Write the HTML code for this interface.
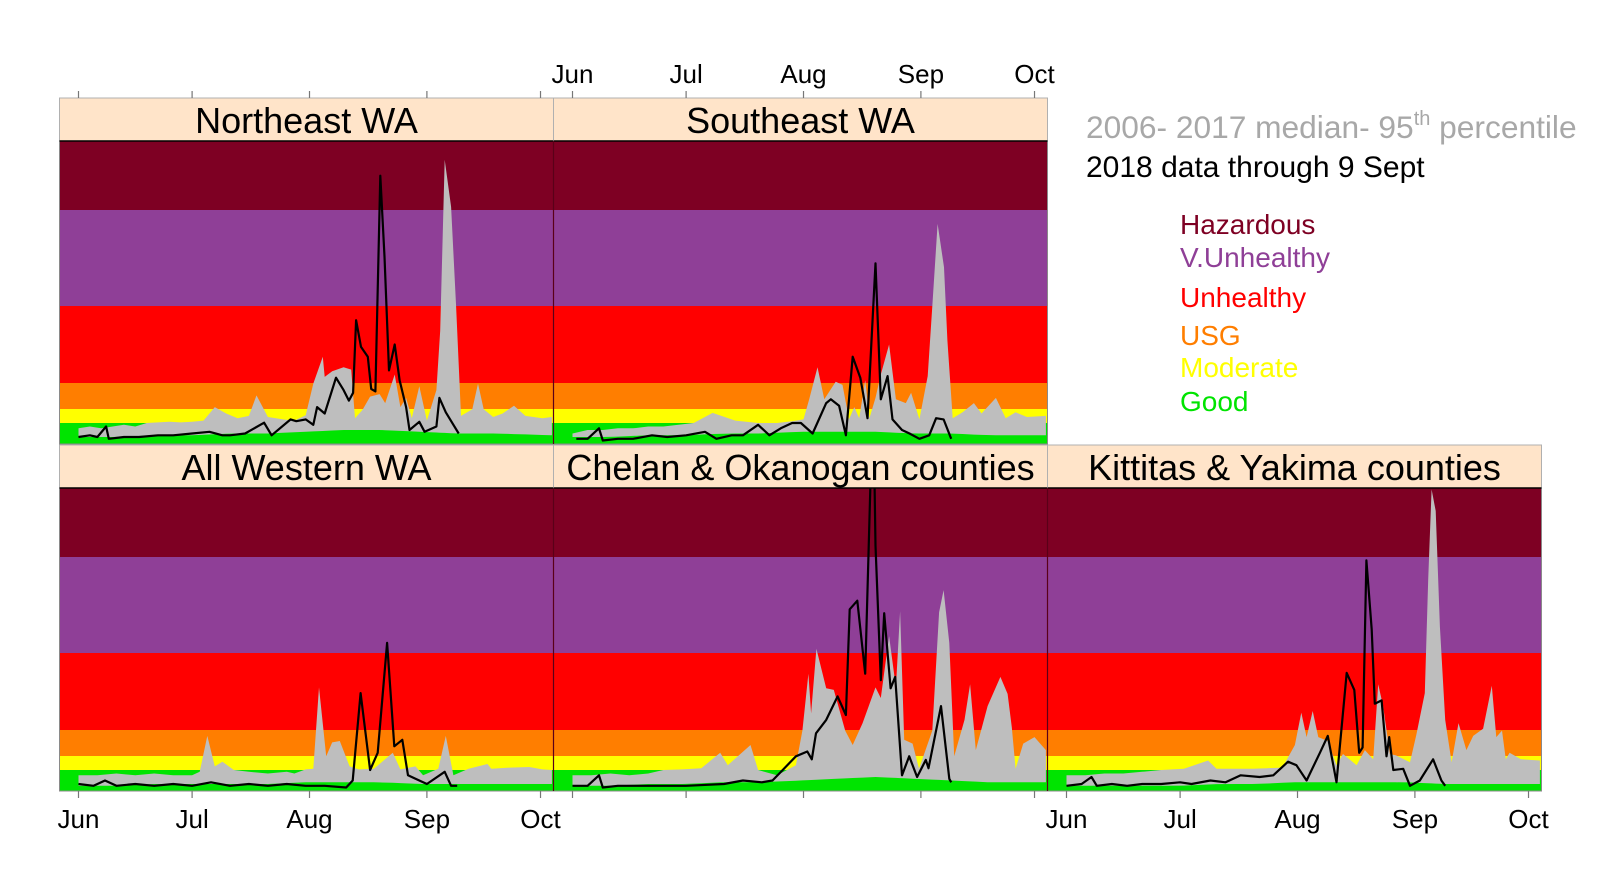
<!DOCTYPE html>
<html><head><meta charset="utf-8"><title>WA smoke PM2.5 2018</title>
<style>
html,body{margin:0;padding:0;background:#fff;}
svg{display:block;font-family:"Liberation Sans",Arial,sans-serif;}
</style></head>
<body>
<svg id="chart" width="1600" height="890" viewBox="0 0 1600 890" xmlns="http://www.w3.org/2000/svg">
  <g id="legend">
    <text x="1086" y="138" font-size="31.7" fill="#a8a8a8">2006- 2017 median- 95<tspan dy="-13" font-size="20">th</tspan><tspan dy="13"> percentile</tspan></text>
    <text x="1086" y="177" font-size="30" fill="#000">2018 data through 9 Sept</text>
    <text x="1180" y="234" font-size="28" fill="#7e0023">Hazardous</text>
    <text x="1180" y="267" font-size="28" fill="#8f3f97">V.Unhealthy</text>
    <text x="1180" y="307" font-size="28" fill="#ff0000">Unhealthy</text>
    <text x="1180" y="345" font-size="28" fill="#ff7e00">USG</text>
    <text x="1180" y="377" font-size="28" fill="#ffff00">Moderate</text>
    <text x="1180" y="411" font-size="28" fill="#00e400">Good</text>
  </g>
</svg>
<script>
// ---- data (days since 1 June; PM2.5 ug/m3) ----
const MONTH_LABELS = ["Jun","Jul","Aug","Sep","Oct"];
const MONTH_DAYS = [0,30,61,92,122];
const CAT_BREAKS = [0,12,35.5,55.5,150.5,250.5,350];
const CAT_COLORS = ["#00e400","#ffff00","#ff7e00","#ff0000","#8f3f97","#7e0023"];
const MED_DAYS = [0,10,20,30,40,50,60,70,80,90,100,110,125];

const NE_P95_DAYS = [0,3,6,9,12,15,18,21,24,27,30,33,36,39,42,45,47,50,54,57,60,62,64.5,65,67,70,72,73,75,77,79.5,81,83.5,85,86.5,88,90,92,94.5,95.5,96.7,98.4,99.7,101,104,105.5,107,109.5,112,115,118,122.5,125];
const NE_P95 = [9,10,9,10,11,10,12,13,14,13,14,16,37,28,20,24,46,22,18,16,25,55,88,63,70,75,72,20,34,45,47,40,66,37,44,20,53,16,50,120,323,255,150,24,35,55,35,22,28,38,24,20,22];
const NE_MED = [4,4,5,5,6,6,7,8,8,7,6,6,5];
const NE_OBS_DAYS = [0,3,5,7.3,8,12,16,21,25,30,34.6,38,40,44,49,51,56,57.5,60,62,63,65,68,70,71.4,72.5,73.3,74.6,76.4,77.3,78.4,79.7,80.8,82,83.5,84.8,86.5,87.4,90,91.4,94.5,95.3,97,99,100.4];
const NE_OBS = [4,5,4,10,3,4,4,5,5,6,7,5,5,6,12.5,5,18,15,18,11,37,28,62,50,42,48,133,100,88,51,49,300,202,71,103,59,37,8,14,7,10,44,30,11,6];

const SE_P95_DAYS = [0,4,8,12,16,20,24,28,32,37,43,49,54,58,61,62.5,64.7,66.5,69.5,71.3,73,74.4,75.7,77.3,78.4,80,81.4,83.6,85.4,88,89.4,91.6,93.8,95,96.4,98.1,99,100.4,103,106,108,111.8,114.4,117,120,125];
const SE_P95 = [6,8,8,9,9,10,10,11,12,29,16,12,12,15,18,43,75,43,57,54,18,37,20,59,20,44,66,103,43,40,48,18,64,150,236,191,108,20,30,40,28,44,20,30,22,24];
const SE_MED = [4,4,5,5,6,6,7,7,7,6,6,5,5];
const SE_OBS_DAYS = [1,4,7,8,12,16,21,25,30,35,38,42,45,49,52,55,58,60.3,63.4,67,68.2,70.4,72.2,74,76,77.9,80,81.4,83.2,84.5,87,89,91.6,94.2,96,98,100];
const SE_OBS = [3,3,9,2,3,3,5,4,5,7,3,5,5,11,5,9,12,12,6,40,43,38,5,88,62,20,195,43,64,18,8,6,3,5,20,18,3];

const AW_P95_DAYS = [0,5,10,15,20,25,30,32,34,36,38,41,45,50,55,57,60,62,63.5,65.4,67,69,71.6,74,78,83,85,89,91,95,97,99,103,108,109,114,119,122.5,125];
const AW_P95 = [9,9,10,9,10,9,9,11,51,18,26,12,11,10,11,10,13,14,108,35,46,47,18,13,14,38,13,18,9,14,51,9,14,22,14,16,17,13,12];
const AW_MED = [3,3,4,4,4,4,5,5,5,4,4,4,4];
const AW_OBS_DAYS = [0,4,7,10,15,20,25,30,35,40,45,50,55,60,65,70.7,72.4,74.5,77,79,81.5,83.4,85.5,87,89,92,96.7,98.4,100];
const AW_OBS = [4,3,6,3,4,3,4,3,5,3,4,3,4,3,3,2,6,101,12,38,161,43,48,9,7,4,11,3,3];

const CH_P95_DAYS = [0,5,10,15,20,24,29,34,39,41,47,49,54,59,60.7,62.3,63,64.4,67,69,72,74,76.6,80,81.4,83.6,85.4,86.5,87.6,89.8,91.5,95,96.8,98,99.5,100.8,103.5,105,106.5,109.6,113,114.9,116,117,119,122,125];
const CH_P95 = [9,9,10,9,10,12,13,15,38,20,44,12,9,20,55,125,76,155,107,105,55,44,64,108,95,168,108,194,48,45,14,55,193,216,161,35,68,112,40,85,121,100,59,14,45,50,40];
const CH_MED = [3,3,4,4,5,5,6,7,8,7,6,5,5];
const CH_OBS_DAYS = [0,4,7,8,12,20,30,40,45,50,52.8,55.5,59,62,63.2,64.3,67,70,72.2,73.2,75.2,77.3,78.8,79.7,80,81.4,82.3,84,85.2,87,88.9,91,93.3,94,97.3,99.5,100];
const CH_OBS = [3,3,9,2,3,3,3,4,6,5,6,12,35,39,30,53,68,97,74,196,205,125,380,380,267,117,192,107,121,9,35,8,29,15,85,7,5];

const KY_P95_DAYS = [0,5,10,15,20,25,31,37.4,39.6,45,49,53,57,60.3,62,63.4,65,66.5,69,71.3,73,76.6,78.8,81,82.3,83.6,85.4,87,90.7,92.4,94.6,95.5,96.4,97.5,98.6,100,101.7,103.5,105.6,107.4,110,112.3,113.5,115,116,117,120,125];
const KY_P95 = [9,9,10,10,11,12,14,28,14,14,14,15,16,44,77,50,79,50,47,20,37,20,40,30,112,85,37,36,25,52,101,227,348,317,178,68,25,64,40,51,57,110,50,55,30,38,30,28];
const KY_MED = [3,3,3,3,4,4,5,5,5,5,4,4,4];
const KY_OBS_DAYS = [0,4,6.6,8,12,16,20,25,30,33,38,42,46,51,54.6,58.5,60.7,63.4,66.9,69,71.3,74,76,77.3,78.2,79.2,80.6,81.4,83.2,84.5,85.2,86.3,88.9,90.7,93.3,96.8,99,100];
const KY_OBS = [3,4,8,3,4,3,4,4,5,4,6,5,9,8,9,26,20,6,38,51,5,126,105,38,42,247,175,88,92,35,50,12,14,3,6,30,6,3];

// ---- layout ----
const NS = "http://www.w3.org/2000/svg";
const svg = document.getElementById("chart");
const COL_X = [59.5, 553.5, 1047.5];
const PW = 494, PH = 303, STRIP_H = 43;
const ROW_TOP = [141, 488];
const PX_BREAKS = [0,21,35,61,138,234,303];
const X_OFF = 19, PX_PER_DAY = 3.787;

function xScale(left, d){ return left + X_OFF + PX_PER_DAY*d; }
function yScale(bottom, v){
  let i = 0;
  while (i < CAT_BREAKS.length-2 && v > CAT_BREAKS[i+1]) i++;
  const f = (v - CAT_BREAKS[i])/(CAT_BREAKS[i+1]-CAT_BREAKS[i]);
  return bottom - (PX_BREAKS[i] + f*(PX_BREAKS[i+1]-PX_BREAKS[i]));
}
function interp(xs, ys, x){
  if (x <= xs[0]) return ys[0];
  for (let i=1;i<xs.length;i++){ if (x <= xs[i]){ const t=(x-xs[i-1])/(xs[i]-xs[i-1]); return ys[i-1]+t*(ys[i]-ys[i-1]); } }
  return ys[ys.length-1];
}
function mk(tag, attrs, parent){
  const e = document.createElementNS(NS, tag);
  for (const k in attrs) e.setAttribute(k, attrs[k]);
  (parent||svg).appendChild(e);
  return e;
}

const PANELS = [
  {title:"Northeast WA", key:"northeast", col:0, row:0, pd:NE_P95_DAYS, p:NE_P95, med:NE_MED, od:NE_OBS_DAYS, o:NE_OBS},
  {title:"Southeast WA", key:"southeast", col:1, row:0, pd:SE_P95_DAYS, p:SE_P95, med:SE_MED, od:SE_OBS_DAYS, o:SE_OBS},
  {title:"All Western WA", key:"western", col:0, row:1, pd:AW_P95_DAYS, p:AW_P95, med:AW_MED, od:AW_OBS_DAYS, o:AW_OBS},
  {title:"Chelan & Okanogan counties", key:"chelan-okanogan", col:1, row:1, pd:CH_P95_DAYS, p:CH_P95, med:CH_MED, od:CH_OBS_DAYS, o:CH_OBS},
  {title:"Kittitas & Yakima counties", key:"kittitas-yakima", col:2, row:1, pd:KY_P95_DAYS, p:KY_P95, med:KY_MED, od:KY_OBS_DAYS, o:KY_OBS}
];
const CAT_NAMES = ["good","moderate","usg","unhealthy","very-unhealthy","hazardous"];

const defs = mk("defs", {});
PANELS.forEach((P, idx) => {
  const left = COL_X[P.col], top = ROW_TOP[P.row], bottom = top + PH;
  const g = mk("g", {});
  
  
  const cp = mk("clipPath", {id:"clip"+idx}, defs);
  mk("rect", {x:left, y:top, width:PW, height:PH}, cp);
  for (let i=0;i<CAT_COLORS.length;i++){
    const y1 = yScale(bottom, CAT_BREAKS[i+1]), y0 = yScale(bottom, CAT_BREAKS[i]);
    const r = mk("rect", {x:left, y:y1, width:PW, height:y0-y1, fill:CAT_COLORS[i]}, g);
    
    
  }
  const inner = mk("g", {"clip-path":"url(#clip"+idx+")"}, g);
  let pts = [];
  for (let i=0;i<P.pd.length;i++) pts.push(xScale(left,P.pd[i]).toFixed(1)+","+yScale(bottom,P.p[i]).toFixed(1));
  for (let i=P.pd.length-1;i>=0;i--) pts.push(xScale(left,P.pd[i]).toFixed(1)+","+yScale(bottom,interp(MED_DAYS,P.med,P.pd[i])).toFixed(1));
  const rib = mk("polygon", {points:pts.join(" "), fill:"#bebebe"}, inner);
  
  
  const lp = P.od.map((d,i)=>xScale(left,d).toFixed(1)+","+yScale(bottom,P.o[i]).toFixed(1)).join(" ");
  const ln = mk("polyline", {points:lp, fill:"none", stroke:"#000", "stroke-width":2.2, "stroke-linejoin":"round"}, inner);
  
  
  mk("rect", {x:left, y:top, width:PW, height:PH, fill:"none", stroke:"#8a8a8a", "stroke-width":1}, g);
  const st = mk("rect", {x:left, y:top-STRIP_H, width:PW, height:STRIP_H, fill:"#ffe4c9", stroke:"#b0b0b0", "stroke-width":1}, g);
  
  
  mk("line", {x1:left, x2:left+PW, y1:top, y2:top, stroke:"#000", "stroke-width":1.5}, g);
  const tt = mk("text", {x:left+PW/2, y:top-8, "font-size":36, "text-anchor":"middle", fill:"#000"}, g);
  tt.textContent = P.title;
  
  
  if (P.col > 0) mk("line", {x1:left, x2:left, y1:top, y2:bottom, stroke:"#5a0018", "stroke-width":1.2}, g);
});

function axis(left, yBase, dir, labels){
  const g = mk("g", {});
  
  
  MONTH_DAYS.forEach((d,i)=>{
    const x = xScale(left,d);
    mk("line", {x1:x, x2:x, y1:yBase, y2:yBase+dir*7, stroke:"#777", "stroke-width":1.2}, g);
    if (labels){
      const t = mk("text", {x:x, y: dir>0 ? yBase+37 : yBase-15, "font-size":26, "text-anchor":"middle", fill:"#000"}, g);
      t.textContent = MONTH_LABELS[i];
      
      
    }
  });
}
axis(COL_X[0], 98, -1, false);
axis(COL_X[1], 98, -1, true);
axis(COL_X[0], 791, 1, true);
axis(COL_X[1], 791, 1, false);
axis(COL_X[2], 791, 1, true);
svg.appendChild(document.getElementById("legend"));
</script>
</body></html>
